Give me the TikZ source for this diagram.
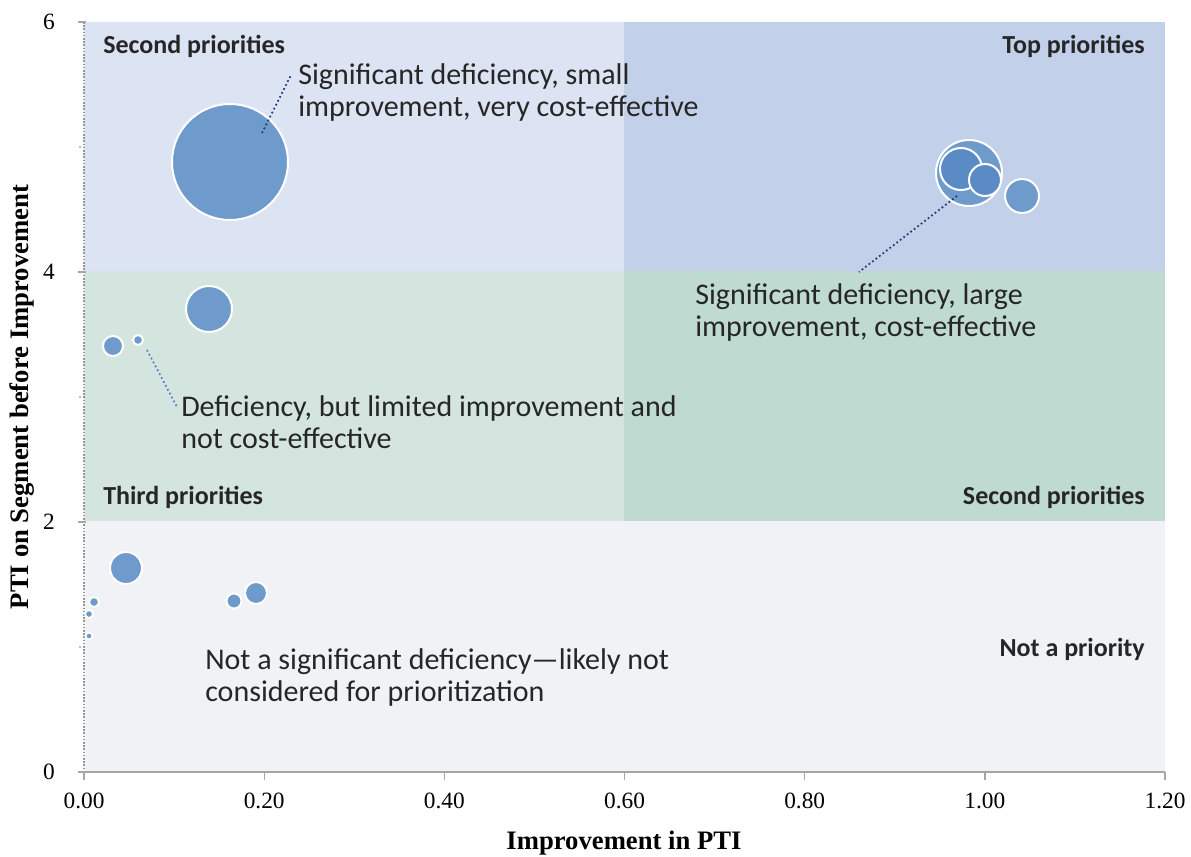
\documentclass[tikz,border=0pt]{standalone}
\usepackage{fontspec}
\setmainfont{Carlito}
\newfontfamily\axisfont{Liberation Serif}
\definecolor{secondblue}{HTML}{DCE3F2}
\definecolor{topblue}{HTML}{C3D0E9}
\definecolor{thirdgreen}{HTML}{D4E4DF}
\definecolor{secondgreen}{HTML}{BFDAD0}
\definecolor{nogray}{HTML}{F1F2F5}
\definecolor{bubblefill}{HTML}{6E9BCB}
\definecolor{bubbledeep}{HTML}{5A8BC5}
\definecolor{notetext}{HTML}{262626}
\definecolor{leadnavy}{HTML}{23357A}
\definecolor{leadblue}{HTML}{4F7FC0}
\definecolor{axisgray}{HTML}{A6A6A6}
\tikzset{
  bubble/.style={fill=bubblefill, draw=white, line width=1.5pt},
  deepbubble/.style={fill=bubbledeep, draw=white, line width=1.5pt},
  leader/.style={leadnavy, line width=1.3pt, dotted},
  note/.style={font=\fontsize{22.5}{24}\selectfont, text=notetext, align=left, inner sep=0pt},
  quadlabel/.style={font=\fontsize{19.5}{22}\selectfont\bfseries, text=notetext, inner sep=0pt},
  ticklabel/.style={font=\axisfont\fontsize{17.5}{20}\selectfont, inner sep=0pt},
  axistitle/.style={font=\axisfont\fontsize{20}{24}\selectfont\bfseries, inner sep=0pt}
}
\begin{document}
\begin{tikzpicture}[x=0.75pt,y=0.75pt,yscale=-1,xscale=1]
	\useasboundingbox (0,0) rectangle (1191,856);
	
	% Quadrants
	\fill[nogray] (84,521) rectangle (1165,772);
	\fill[thirdgreen] (84,271) rectangle (624,521);
	\fill[secondgreen] (624,271) rectangle (1165,521);
	\fill[secondblue] (84,22) rectangle (624,271);
	\fill[topblue] (624,22) rectangle (1165,271);
	
	% Axes
	\draw[axisgray!90!black, line width=2pt, dash pattern=on 1.2pt off 1.2pt] (84,22) -- (84,772);
	\foreach \v in {0,2,4,6} {
		\draw[axisgray, line width=1pt] (78,{772-125*\v}) -- (86,{772-125*\v});
		\node[ticklabel] (ytick\v) at (49,{772-125*\v}) {\v};
	}
	\foreach \v in {1,3,5}
		\fill[axisgray] (80,{772-125*\v}) circle (1.2);
	\draw[axisgray, line width=1.5pt] (84,772) -- (1165,772);
	\foreach \t/\lab in {0/0.00,1/0.20,2/0.40,3/0.60,4/0.80,5/1.00,6/1.20} {
		\draw[axisgray, line width=1pt] ({84+180.17*\t},772) -- ({84+180.17*\t},780);
		\node[ticklabel] (xtick\t) at ({84+180.17*\t},801) {\lab};
	}
	% Axis titles
	\node[axistitle] (xtitle) at (624,843) {Improvement in PTI};
	\node[axistitle, rotate=90] (ytitle) at (22,397) {PTI on Segment before Improvement};
	
	% Bubbles
	\draw[bubble] (230,162) circle (58);
	\draw[bubble] (969,173) circle (33);
	\draw[deepbubble] (961,169) circle (21);
	\draw[deepbubble] (985,180) circle (16);
	\draw[bubble] (1022,196) circle (17);
	\draw[bubble] (209,309) circle (23);
	\draw[bubble] (113,346) circle (10);
	\draw[bubble] (138,340) circle (5);
	\draw[bubble] (126,568) circle (16);
	\draw[bubble] (94,602) circle (5);
	\draw[bubble] (89,614) circle (4);
	\draw[bubble] (89,636) circle (3.5);
	\draw[bubble] (234,601) circle (7.5);
	\draw[bubble] (256,593) circle (11);
	
	% Quadrant labels
	\node[quadlabel, anchor=base west] (secondtop) at (103,54) {Second priorities};
	\node[quadlabel, anchor=base east] (toppri) at (1145,54) {Top priorities};
	\node[quadlabel, anchor=base west] (thirdpri) at (103,504) {Third priorities};
	\node[quadlabel, anchor=base east] (secondmid) at (1145,504) {Second priorities};
	\node[quadlabel, anchor=base east] (notpri) at (1145,656) {Not a priority};
	
	% Text Node
	\node[note, anchor=base west] (smallimp) at (298,116) {Significant deficiency, small\\improvement, very cost-effective};
	% Text Node
	\node[note, anchor=base west] (largeimp) at (695,336) {Significant deficiency, large\\improvement, cost-effective};
	% Text Node
	\node[note, anchor=base west] (limited) at (181,448) {Deficiency, but limited improvement and\\not cost-effective};
	% Text Node
	\node[note, anchor=base west] (notsig) at (205,701) {Not a significant deficiency—likely not\\considered for prioritization};
	
	% Connection
	\coordinate (smallin) at (262,133);
	\coordinate (smallout) at (291,75);
	\draw[leader] (smallin) -- (smallout);
	% Connection
	\coordinate (largein) at (957,196);
	\coordinate (largeout) at (859,272);
	\draw[leader] (largein) -- (largeout);
	% Connection
	\coordinate (limitedin) at (147,350);
	\coordinate (limitedout) at (177,407);
	\draw[leader, leadblue] (limitedin) -- (limitedout);
	
\end{tikzpicture}
\end{document}
